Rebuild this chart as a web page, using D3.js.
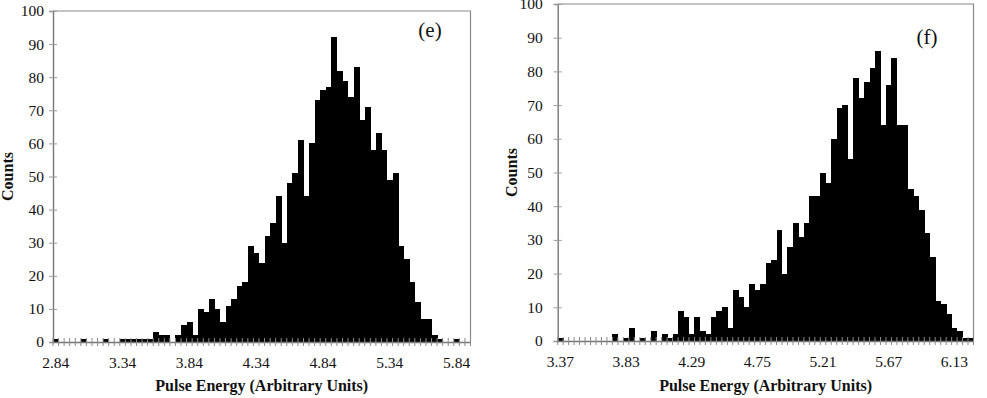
<!DOCTYPE html>
<html>
<head>
<meta charset="utf-8">
<script src="https://cdn.jsdelivr.net/npm/d3@7/dist/d3.min.js"></script>
<style>
  html, body { margin: 0; padding: 0; background: #fff; }
  svg { display: block; font-family: "Liberation Serif", "DejaVu Serif", serif; }
</style>
</head>
<body>
<svg id="chart" width="987" height="398"></svg>
<script>
// Panel (e) - counts per energy bin
const countsE = [
  1, 0, 0, 0, 0, 1, 0, 0, 0, 1, 0, 0, 1, 1, 1, 1, 1, 1, 3, 2,
  2, 0, 2, 5, 6, 2, 10, 9, 13, 10, 6, 11, 13, 17, 18, 29, 27, 24, 32, 36,
  44, 30, 48, 51, 61, 44, 60, 73, 76, 77, 92, 82, 79, 74, 83, 67, 71, 58, 63, 58,
  49, 51, 29, 25, 18, 12, 7, 7, 2, 1, 0, 0, 1, 0, 0
];
const tickLabelsE = ['2.84', '3.34', '3.84', '4.34', '4.84', '5.34', '5.84'];

// Panel (f)
const countsF = [
  1, 0, 0, 0, 0, 0, 0, 0, 0, 0, 2, 0, 1, 4, 0, 1, 0, 3, 0, 2,
  1, 2, 9, 7, 2, 7, 3, 2, 7, 9, 10, 4, 15, 13, 10, 17, 15, 17, 23, 24,
  33, 20, 28, 35, 31, 35, 43, 43, 50, 47, 60, 69, 70, 54, 78, 72, 77, 81, 86, 64,
  76, 84, 64, 64, 45, 43, 39, 32, 25, 12, 11, 8, 4, 3, 1, 1
];
const tickLabelsF = ['3.37', '3.83', '4.29', '4.75', '5.21', '5.67', '6.13'];

const yTicks = [0, 10, 20, 30, 40, 50, 60, 70, 80, 90, 100];
const labelEvery = 12;

const svg = d3.select('#chart');

function drawPanel(counts, tickLabels, tag, box) {
  const g = svg.append('g');

  const x = d3.scaleBand()
    .domain(d3.range(counts.length))
    .range([box.left, box.right])
    .padding(0);

  const y = d3.scaleLinear()
    .domain([0, 100])
    .range([box.bottom, box.top]);

  // plot area border (top + right)
  g.append('path')
    .attr('d', `M${box.left},${box.top}H${box.right}V${box.bottom}`)
    .attr('fill', 'none')
    .attr('stroke', '#8a8a8a')
    .attr('stroke-width', 1.2);

  // Bars
  g.selectAll('.bar')
    .data(counts)
    .enter().append('rect')
    .attr('x', (d, i) => x(i))
    .attr('width', x.bandwidth() + 0.4)
    .attr('y', d => y(d))
    .attr('height', d => y(0) - y(d))
    .attr('fill', '#000')
    .attr('shape-rendering', 'crispEdges');

  // Y Axis
  const yAxis = g.append('g')
    .attr('transform', `translate(${box.left},0)`)
    .call(d3.axisLeft(y).tickValues(yTicks).tickSize(4).tickPadding(box.ypad));
  yAxis.select('.domain').attr('stroke', '#777').attr('stroke-width', 1.4);
  yAxis.selectAll('.tick line').attr('x1', 4).attr('stroke', '#9a9a9a');
  yAxis.selectAll('text')
    .style('font-size', '15.5px')
    .style('font-family', '"Liberation Serif", serif')
    .attr('fill', '#111');

  // X Axis (labels every 12 bins)
  const labelIdx = tickLabels.map((t, k) => k * labelEvery);
  const xAxis = g.append('g')
    .attr('transform', `translate(0,${box.bottom})`)
    .call(d3.axisBottom(x).tickValues(labelIdx)
      .tickFormat(d => tickLabels[d / labelEvery]).tickSize(0).tickPadding(15));
  xAxis.select('.domain').attr('stroke', '#777').attr('stroke-width', 1.4);
  xAxis.selectAll('text')
    .style('font-size', '15.5px')
    .style('font-family', '"Liberation Serif", serif')
    .attr('fill', '#111');

  // bin boundary ticks crossing the x axis
  const edges = d3.range(counts.length).map(i => x(i)).concat([box.right]);
  g.selectAll('.xtick')
    .data(edges)
    .enter().append('line')
    .attr('x1', d => d).attr('x2', d => d)
    .attr('y1', box.bottom - 4).attr('y2', box.bottom + 4)
    .attr('stroke', '#8a8a8a')
    .attr('stroke-width', 1);

  // Axis titles
  g.append('text')
    .attr('x', (box.left + box.right) / 2)
    .attr('y', 391)
    .attr('text-anchor', 'middle')
    .style('font-size', '16px')
    .style('font-weight', 'bold')
    .attr('fill', '#111')
    .text('Pulse Energy (Arbitrary Units)');

  g.append('text')
    .attr('transform', `translate(${box.ytitle},${(box.top + box.bottom) / 2}) rotate(-90)`)
    .attr('text-anchor', 'middle')
    .style('font-size', '16px')
    .style('font-weight', 'bold')
    .attr('fill', '#111')
    .text('Counts');

  // panel tag
  g.append('text')
    .attr('x', box.tagX)
    .attr('y', box.tagY)
    .attr('text-anchor', 'middle')
    .style('font-size', '21px')
    .attr('fill', '#111')
    .text(tag);
}

drawPanel(countsE, tickLabelsE, '(e)',
  { left: 53, right: 470.5, top: 11, bottom: 342, ypad: 5, ytitle: 13, tagX: 430, tagY: 37 });
drawPanel(countsF, tickLabelsF, '(f)',
  { left: 557.7, right: 973.5, top: 4, bottom: 341, ypad: 11, ytitle: 517, tagX: 927, tagY: 44 });
</script>
</body>
</html>
